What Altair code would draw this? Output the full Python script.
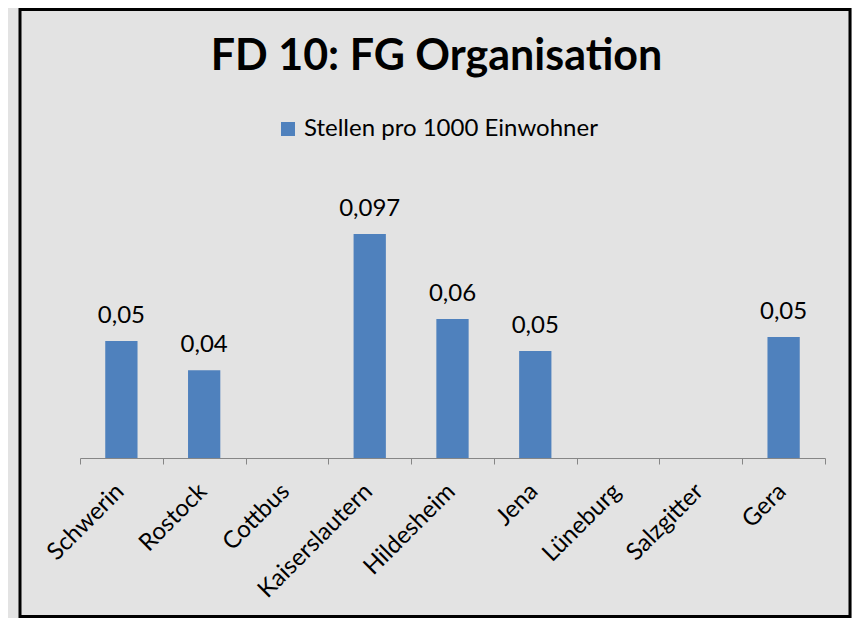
import altair as alt
import pandas as pd

cities = ["Schwerin", "Rostock", "Cottbus", "Kaiserslautern", "Hildesheim",
          "Jena", "Lüneburg", "Salzgitter", "Gera"]
values = [0.0507, 0.038, None, 0.097, 0.0602, 0.0463, None, None, 0.0524]
labels = ["0,05", "0,04", "", "0,097", "0,06", "0,05", "", "", "0,05"]
series = "Stellen pro 1000 Einwohner"
title = "FD 10: FG Organisation"

df = pd.DataFrame({"Stadt": cities, "Wert": values, "Label": labels, "Serie": [series] * len(cities)})

FONT = "Lato"
W, H = 745, 231

x_enc = alt.X("Stadt:N", sort=cities,
              scale=alt.Scale(paddingInner=0, paddingOuter=0),
              axis=alt.Axis(title=None, labelAngle=-45, labelFontSize=24, labelFont=FONT,
                            labelColor="#000000", domainColor="#868686", tickColor="#868686",
                            tickSize=6, tickBand="extent", labelPadding=15, labelOffset=-10,
                            grid=False))
y_enc = alt.Y("Wert:Q", scale=alt.Scale(domain=[0, 0.1]), axis=None)

bars = alt.Chart(df).mark_bar(color="#4f81bd", width=alt.RelativeBandSize(0.39)).encode(
    x=x_enc, y=y_enc,
    color=alt.Color("Serie:N", scale=alt.Scale(range=["#4f81bd"]),
                    legend=alt.Legend(title=None, orient="none", legendX=196, legendY=-110,
                                      symbolType="square", symbolSize=196, symbolStrokeWidth=0,
                                      labelFontSize=24, labelFont=FONT, labelColor="#000000",
                                      labelLimit=0, symbolOffset=0, labelOffset=4)))

text = alt.Chart(df).mark_text(baseline="alphabetic", dy=-18, fontSize=24, font=FONT,
                               color="#000000").encode(
    x=alt.X("Stadt:N", sort=cities), y="Wert:Q", text="Label:N")

border = alt.Chart(alt.Data(values=[{}])).mark_rect(
    fill=None, stroke="#000000", strokeWidth=3).encode(
    x=alt.value(-60), x2=alt.value(770), y=alt.value(-217.5), y2=alt.value(389.5))

chart = alt.layer(border, bars, text).properties(
    width=W, height=H,
    title=alt.Title(title, fontSize=43, font=FONT, fontWeight="bold", color="#000000",
                    anchor="middle", dx=-16, offset=-105, baseline="alphabetic"),
    autosize=alt.AutoSizeParams(type="none"),
    padding={"left": 72, "right": 27, "top": 219, "bottom": 160},
    background="#e3e3e3",
).configure_view(stroke=None)

chart.save("out.html", embed_options={"renderer": "svg", "actions": False})
